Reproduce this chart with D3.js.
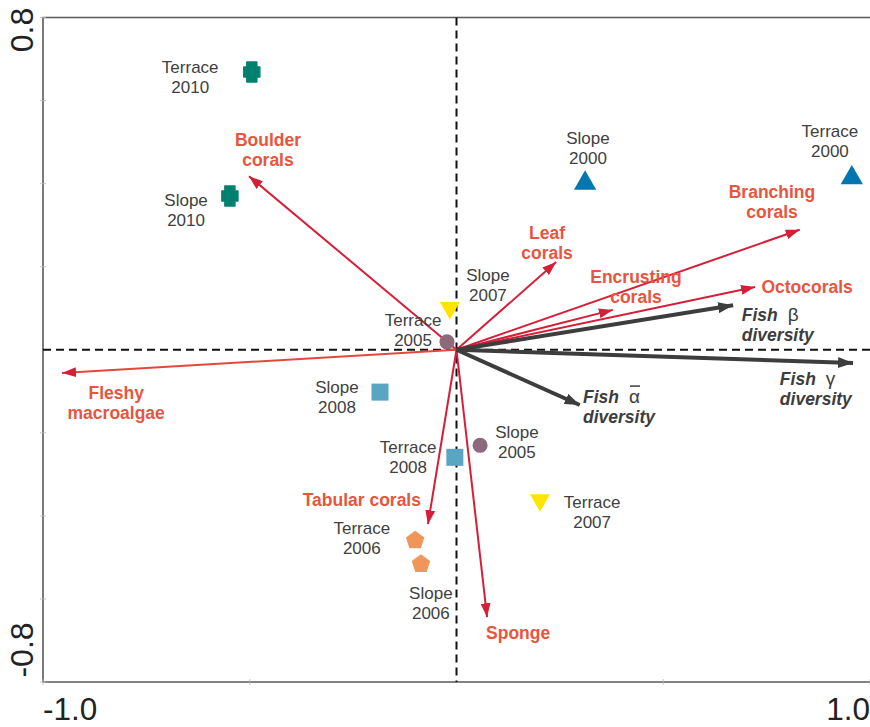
<!DOCTYPE html>
<html>
<head>
<meta charset="utf-8">
<script src="https://cdnjs.cloudflare.com/ajax/libs/d3/7.8.5/d3.min.js"></script>
<style>
  body { margin: 0; background: #fff; }
  text { font-family: "Liberation Sans", Arial, sans-serif; }
</style>
</head>
<body>
<script>
// site scores
var siteNames = ["Terrace 2010", "Slope 2010", "Slope 2000", "Terrace 2000", "Slope 2007", "Terrace 2005",
                 "Slope 2008", "Terrace 2008", "Slope 2005", "Terrace 2007", "Terrace 2006", "Slope 2006"];
var siteX = [-0.495, -0.548, 0.311, 0.956, -0.016, -0.023, -0.185, -0.004, 0.057, 0.202, -0.100, -0.086];
var siteY = [0.669, 0.370, 0.401, 0.414, 0.101, 0.019, -0.102, -0.259, -0.230, -0.362, -0.459, -0.516];
var siteYear = ["2010", "2010", "2000", "2000", "2007", "2005", "2008", "2008", "2005", "2007", "2006", "2006"];
// label positions (data units) for the site names
var siteLabX = [-0.644, -0.654, 0.318, 0.903, 0.076, -0.105, -0.289, -0.117, 0.146, 0.328, -0.229, -0.062];
var siteLabY = [0.681, 0.361, 0.510, 0.527, 0.180, 0.072, -0.090, -0.234, -0.198, -0.367, -0.430, -0.586];

// biological variables (arrows)
var bioNames = ["Boulder corals", "Leaf corals", "Branching corals", "Encrusting corals", "Octocorals",
                "Fleshy macroalgae", "Tabular corals", "Sponge"];
var bioX = [-0.502, 0.241, 0.830, 0.378, 0.722, -0.954, -0.069, 0.074];
var bioY = [0.418, 0.211, 0.289, 0.096, 0.151, -0.056, -0.420, -0.644];
var bioLabX = [-0.456, 0.219, 0.763, 0.434, 0.848, -0.823, -0.229, 0.149];
var bioLabY = [0.505, 0.281, 0.380, 0.175, 0.151, -0.104, -0.362, -0.683];

// fish diversity (arrows)
var fishNames = ["\u03B2", "\u03B3", "\u03B1"];
var fishX = [0.669, 0.959, 0.298];
var fishY = [0.107, -0.032, -0.133];
var fishLabX = [0.690, 0.782, 0.306];
var fishLabY = [0.083, -0.0705, -0.114];

var xTicks = [-1.0, -0.5, 0.5, 1.0];
var yTicks = [0.8, 0.6, 0.4, 0.2, -0.2, -0.4, -0.6, -0.8];

var w = 870, h = 727;
var x = d3.scaleLinear().domain([-1, 1]).range([43, 870]);
var y = d3.scaleLinear().domain([-0.8, 0.8]).range([682, 17.5]);

var svg = d3.select("body").append("svg").attr("width", w).attr("height", h);

// frame
svg.append("path")
  .attr("d", "M870," + y(0.8) + "H" + x(-1) + "V" + y(-0.8) + "H870")
  .attr("fill", "none").attr("stroke", "#5a5a5a").attr("stroke-width", 1.6);

// small ticks
svg.selectAll(".yt").data(yTicks).enter().append("line")
  .attr("x1", x(-1) - 3).attr("x2", x(-1) + 3)
  .attr("y1", function(d) { return y(d); }).attr("y2", function(d) { return y(d); })
  .attr("stroke", "#bbb").attr("stroke-width", 0.8);
svg.selectAll(".xt").data(xTicks).enter().append("line")
  .attr("x1", function(d) { return x(d); }).attr("x2", function(d) { return x(d); })
  .attr("y1", y(-0.8) - 3).attr("y2", y(-0.8) + 3)
  .attr("stroke", "#bbb").attr("stroke-width", 0.8);

// tick labels (only the ends are labelled)
svg.append("text").text("-1.0").attr("x", x(-1)).attr("y", 720)
  .attr("font-size", 31.5).attr("fill", "#222");
svg.append("text").text("1.0").attr("x", x(1)).attr("y", 720)
  .attr("text-anchor", "end").attr("font-size", 31.5).attr("fill", "#222");
svg.append("text").text("0.8").attr("transform", "translate(33," + (y(0.8) + 12.5) + ") rotate(-90)")
  .attr("text-anchor", "middle").attr("font-size", 32).attr("fill", "#222");
svg.append("text").text("-0.8").attr("transform", "translate(33," + (y(-0.8) - 32) + ") rotate(-90)")
  .attr("text-anchor", "middle").attr("font-size", 32).attr("fill", "#222");

// zero lines
svg.append("line").attr("x1", x(-1)).attr("x2", 870).attr("y1", y(0)).attr("y2", y(0))
  .attr("stroke", "#111").attr("stroke-width", 2).attr("stroke-dasharray", "8,5");
svg.append("line").attr("x1", x(0)).attr("x2", x(0)).attr("y1", y(0.8)).attr("y2", y(-0.8))
  .attr("stroke", "#111").attr("stroke-width", 2).attr("stroke-dasharray", "8,5");

// arrow heads
var defs = svg.append("defs");
function marker(id, color, len, wid) {
  defs.append("marker").attr("id", id)
    .attr("markerUnits", "userSpaceOnUse")
    .attr("viewBox", "0 0 " + len + " " + wid)
    .attr("refX", len).attr("refY", wid / 2)
    .attr("markerWidth", len).attr("markerHeight", wid)
    .attr("orient", "auto")
    .append("path").attr("d", "M0,0L" + len + "," + (wid / 2) + "L0," + wid + "Z").attr("fill", color);
}
marker("hr", "#d51f38", 14, 10);
marker("hg", "#3d3d3d", 15, 11);

var red = "#d51f38", redText = "#e8553f", grey = "#3d3d3d";

// biological arrows
svg.selectAll(".bio").data(bioNames).enter().append("line")
  .attr("x1", x(0)).attr("y1", y(0))
  .attr("x2", function(d, i) { return x(bioX[i]); })
  .attr("y2", function(d, i) { return y(bioY[i]); })
  .attr("stroke", function(d, i) { return i == 5 ? "#e4483a" : red; })
  .attr("stroke-width", 2)
  .attr("marker-end", "url(#hr)");

// fish arrows
svg.selectAll(".fish").data(fishNames).enter().append("line")
  .attr("x1", x(0)).attr("y1", y(0))
  .attr("x2", function(d, i) { return x(fishX[i]); })
  .attr("y2", function(d, i) { return y(fishY[i]); })
  .attr("stroke", grey).attr("stroke-width", 4)
  .attr("marker-end", "url(#hg)");

// bio labels
bioNames.forEach(function(name, i) {
  var parts = name.split(" ");
  var lines = (name == "Tabular corals" || parts.length == 1) ? [name] : parts;
  var t = svg.append("text")
    .attr("x", x(bioLabX[i])).attr("y", y(bioLabY[i]) + 6)
    .attr("text-anchor", "middle").attr("font-size", 17.5).attr("font-weight", "bold")
    .attr("fill", redText);
  lines.forEach(function(l, k) {
    t.append("tspan").attr("x", x(bioLabX[i])).attr("dy", k == 0 ? 0 : 20).text(l);
  });
});

// fish labels
fishNames.forEach(function(g, i) {
  var t = svg.append("text")
    .attr("x", x(fishLabX[i])).attr("y", y(fishLabY[i]) + 6)
    .attr("font-size", 17.5).attr("font-weight", "bold").attr("font-style", "italic")
    .attr("fill", grey);
  t.append("tspan").text("Fish");
  t.append("tspan").attr("dx", 10).attr("font-weight", "normal").attr("font-style", "normal")
    .attr("font-size", 19).text(g);
  t.append("tspan").attr("x", x(fishLabX[i])).attr("dy", 20).text("diversity");
  if (g == "\u03B1") {
    // bar over alpha (mean)
    svg.append("line")
      .attr("x1", x(fishLabX[i]) + 47).attr("x2", x(fishLabX[i]) + 57)
      .attr("y1", y(fishLabY[i]) - 11).attr("y2", y(fishLabY[i]) - 11)
      .attr("stroke", grey).attr("stroke-width", 1.5);
  }
});

// custom symbols
var thickCross = {
  draw: function(ctx, size) {
    var a = Math.sqrt(size) / 2;
    var vb = a * 0.5, hb = a * 0.8, hh = a * 0.5;
    ctx.moveTo(-vb, -a);
    ctx.lineTo(vb, -a); ctx.lineTo(vb, -hh); ctx.lineTo(hb, -hh);
    ctx.lineTo(hb, hh); ctx.lineTo(vb, hh); ctx.lineTo(vb, a);
    ctx.lineTo(-vb, a); ctx.lineTo(-vb, hh); ctx.lineTo(-hb, hh);
    ctx.lineTo(-hb, -hh); ctx.lineTo(-vb, -hh);
    ctx.closePath();
  }
};
var pentagon = {
  draw: function(ctx, size) {
    var r = Math.sqrt(size) / 1.6;
    for (var k = 0; k < 5; k++) {
      var ang = -Math.PI / 2 + k * 2 * Math.PI / 5;
      if (k == 0) ctx.moveTo(r * Math.cos(ang), r * Math.sin(ang));
      else ctx.lineTo(r * Math.cos(ang), r * Math.sin(ang));
    }
    ctx.closePath();
  }
};
var symFor = { "2010": [thickCross, 400, "#00806e", 0], "2000": [d3.symbolTriangle, 215, "#0077b0", 0],
  "2007": [d3.symbolTriangle, 175, "#ffe400", 180], "2005": [d3.symbolCircle, 180, "#8c6a7c", 0],
  "2008": [d3.symbolSquare, 290, "#58a6c1", 0], "2006": [pentagon, 240, "#f0965a", 0] };

svg.selectAll(".site").data(siteNames).enter().append("path")
  .attr("d", function(d, i) { var s = symFor[siteYear[i]]; return d3.symbol().type(s[0]).size(s[1])(); })
  .attr("fill", function(d, i) { return symFor[siteYear[i]][2]; })
  .attr("stroke", function(d, i) { return symFor[siteYear[i]][2]; })
  .attr("stroke-width", function(d, i) { return siteYear[i] == "2010" ? 1.5 : 0; })
  .attr("stroke-linejoin", "round")
  .attr("transform", function(d, i) {
    return "translate(" + x(siteX[i]) + "," + y(siteY[i]) + ") rotate(" + symFor[siteYear[i]][3] + ")";
  });

// site labels
siteNames.forEach(function(name, i) {
  var parts = name.split(" ");
  var t = svg.append("text")
    .attr("x", x(siteLabX[i])).attr("y", y(siteLabY[i]) + 6)
    .attr("text-anchor", "middle").attr("font-size", 17).attr("fill", "#404040");
  t.append("tspan").attr("x", x(siteLabX[i])).text(parts[0]);
  t.append("tspan").attr("x", x(siteLabX[i])).attr("dy", 20).text(parts[1]);
});
</script>
</body>
</html>
